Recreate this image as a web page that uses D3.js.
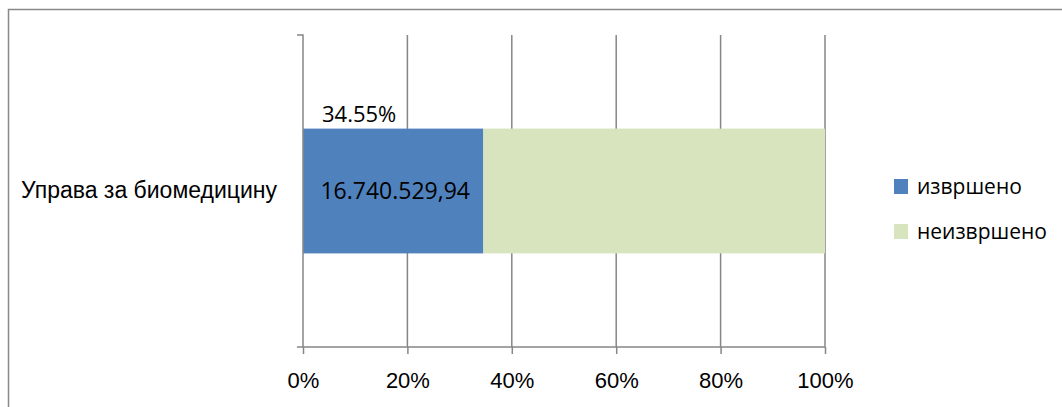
<!DOCTYPE html>
<html>
<head>
  <meta charset="utf-8">
  <title>Управа за биомедицину</title>
  <style>
    body { margin: 0; background: #fff; }
    svg { display: block; font-family: "Open Sans", "Noto Sans", sans-serif; }
    .axis path, .axis line { stroke: #868686; }
    .axis text { font-size: 22px; fill: #000; }
    .y-axis text { font-size: 23px; }
  </style>
</head>
<body>
  <div id="chart"></div>

  <script src="https://d3js.org/d3.v7.min.js"></script>
  <script>
    // chart data
    const categories = ["Управа за биомедицину"];
    const seriesNames = ["извршено", "неизвршено"];
    const done = [34.55];
    const notDone = [65.45];
    const amountLabels = ["16.740.529,94"];
    const percentLabels = ["34.55%"];
    const xTicks = [0, 20, 40, 60, 80, 100];
    const colors = ["#4F81BD", "#D7E4BD"];

    const width = 1062, height = 407;
    const plot = { left: 303, right: 825, top: 35, bottom: 347 };

    const svg = d3.select("#chart")
      .append("svg")
      .attr("width", width)
      .attr("height", height);

    // outer chart border (runs off the right / bottom edge)
    svg.append("rect")
      .attr("x", 8.5).attr("y", 9.5)
      .attr("width", 1100).attr("height", 450)
      .attr("fill", "none")
      .attr("stroke", "#888")
      .attr("stroke-width", 1.5);

    const x = d3.scaleLinear().domain([0, 100]).range([plot.left, plot.right]);
    const y = d3.scaleBand().domain(categories).range([plot.top, plot.bottom]).paddingInner(0.6).paddingOuter(0.295);

    // grid lines
    svg.append("g")
      .selectAll("line")
      .data(xTicks.slice(1))
      .join("line")
      .attr("x1", d => x(d)).attr("x2", d => x(d))
      .attr("y1", plot.top).attr("y2", plot.bottom)
      .attr("stroke", "#868686")
      .attr("stroke-width", 1.5);

    // bars
    const rows = categories.map((c, i) => ({ cat: c, vals: [done[i], notDone[i]] }));
    rows.forEach((r, i) => {
      let acc = 0;
      r.vals.forEach((v, j) => {
        svg.append("rect")
          .attr("x", x(acc))
          .attr("y", y(r.cat))
          .attr("width", x(acc + v) - x(acc))
          .attr("height", y.bandwidth())
          .attr("fill", colors[j]);
        acc += v;
      });
      svg.append("text")
        .attr("x", (x(0) + x(r.vals[0])) / 2 + 2)
        .attr("y", y(r.cat) + y.bandwidth() / 2)
        .attr("dy", "0.35em")
        .attr("text-anchor", "middle")
        .attr("font-size", 23)
        .text(amountLabels[i]);
      svg.append("text")
        .attr("x", (x(0) + x(r.vals[0])) / 2 - 34)
        .attr("y", y(r.cat) - 7)
        .attr("text-anchor", "middle")
        .attr("font-size", 22)
        .text(percentLabels[i]);
    });

    // x axis
    svg.append("g")
      .attr("class", "axis")
      .attr("transform", `translate(0,${plot.bottom})`)
      .call(d3.axisBottom(x).tickValues(xTicks).tickFormat(d => d + "%").tickSizeOuter(0).tickSize(7).tickPadding(18))
      .call(g => g.selectAll("path, line").attr("stroke-width", 1.5))
      .call(g => g.select(".domain").attr("d", `M${plot.left - 6},0H${plot.right}`));

    // y axis
    svg.append("g")
      .attr("class", "axis y-axis")
      .attr("transform", `translate(${plot.left},0)`)
      .call(d3.axisLeft(y).tickSize(0).tickPadding(26))
      .call(g => g.select(".domain").attr("d", `M-6,${plot.top}H0V${plot.bottom}`).attr("stroke-width", 1.5));

    // legend
    const legend = svg.append("g").attr("transform", "translate(894,179)");
    seriesNames.forEach((name, i) => {
      const g = legend.append("g").attr("transform", `translate(0,${i * 45})`);
      g.append("rect").attr("width", 14).attr("height", 15).attr("fill", colors[i]);
      g.append("text").attr("x", 23).attr("y", 8).attr("dy", "0.35em")
        .attr("font-size", 21).text(name);
    });
  </script>
</body>
</html>
